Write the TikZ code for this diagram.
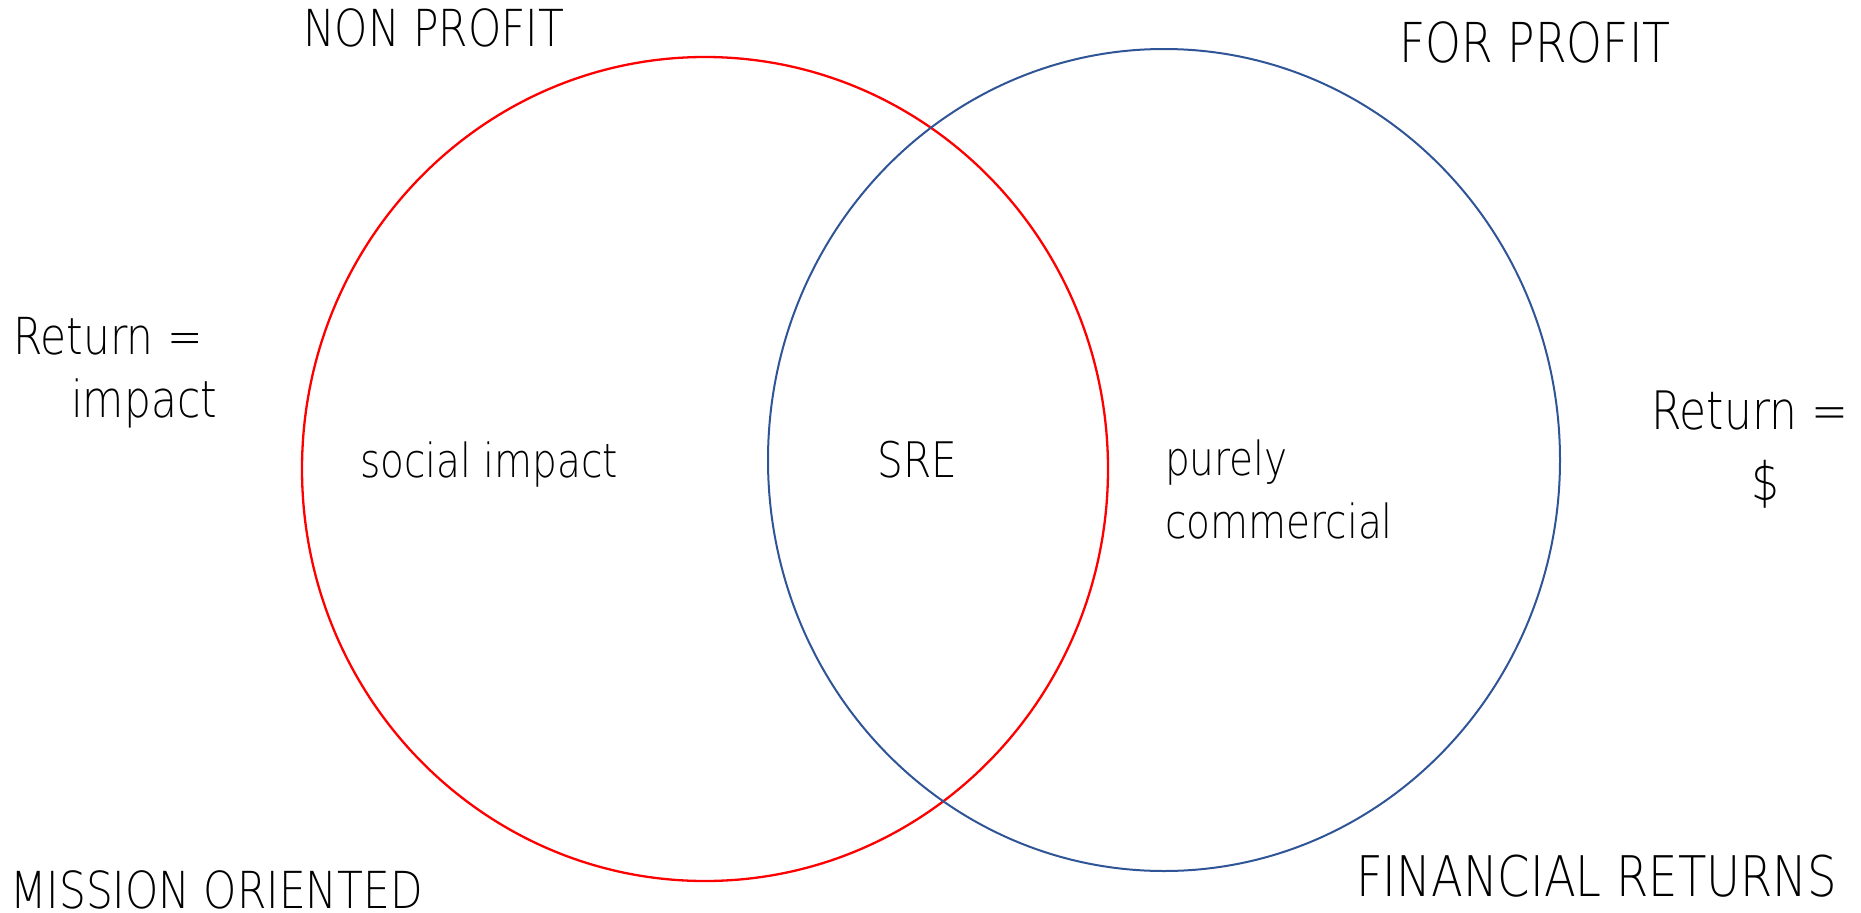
\documentclass[tikz,border=0pt]{standalone}
\usepackage{fontspec}
\setmainfont{DejaVuSans-ExtraLight.ttf}[FakeStretch=0.83]
\definecolor{np red}{HTML}{FF0000}
\definecolor{fp blue}{HTML}{2F5597}
\tikzset{
  lbl/.style={inner sep=0pt, anchor=base west, align=left, font=\fontsize{51}{63}\selectfont},
  inlbl/.style={lbl, font=\fontsize{47}{63}\selectfont}
}

\begin{document}
\begin{tikzpicture}[x=1pt, y=-1pt]
                \useasboundingbox (0, 0) rectangle (1861, 913);
                \draw [np red, line width=2.3pt] (705, 469) ellipse [x radius = 403, y radius = 412];
                \draw [fp blue, line width=2pt] (1164, 460) ellipse [x radius = 396, y radius = 411];
                \node [lbl] (nonprofit) at (303, 46) {NON PROFIT};
                \node [lbl, font=\fontsize{55}{63}\selectfont] (forprofit) at (1399, 62) {FOR PROFIT};
                \node [lbl] (retimpact) at (13, 417) {Return =\\\hspace*{58pt}impact};
                \node [lbl, align=center, font=\fontsize{53}{71}\selectfont] (retdollar) at (1651, 500) {Return =\\\hspace*{32pt}\$};
                \node [inlbl] (social) at (360, 477) {social impact};
                \node [inlbl, font=\fontsize{49}{63}\selectfont] (sre) at (877, 477) {SRE};
                \node [inlbl] (commercial) at (1165, 538) {purely\\commercial};
                \node [lbl] (mission) at (10, 908) {MISSION ORIENTED};
                \node [lbl, font=\fontsize{56}{63}\selectfont] (financial) at (1356, 896) {FINANCIAL RETURNS};
            \end{tikzpicture}
\end{document}
